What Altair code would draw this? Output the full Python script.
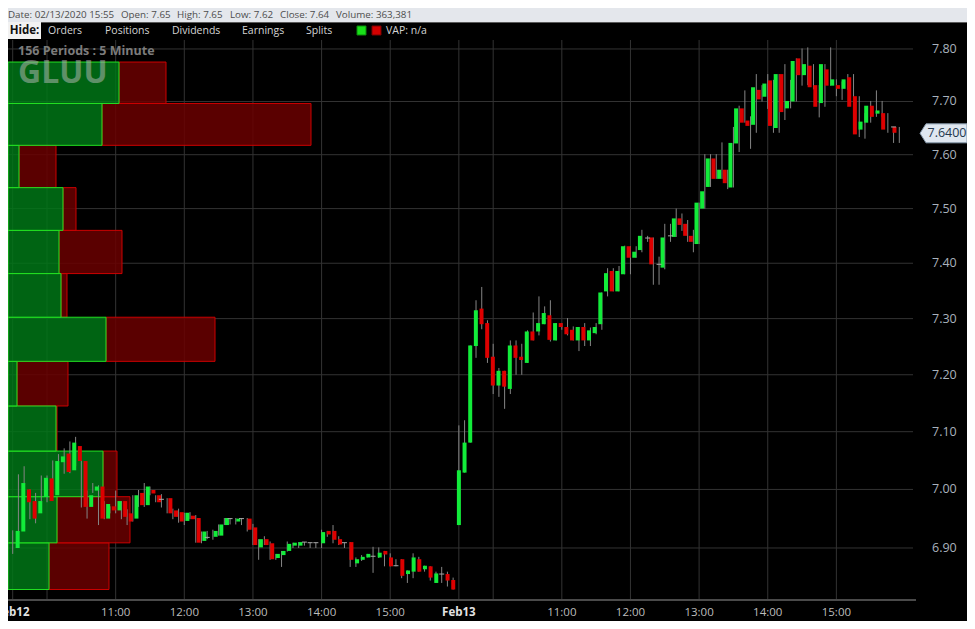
import altair as alt
import pandas as pd

# ---------------- data ----------------
opens = [6.900, 6.928, 7.000, 6.980, 6.959, 6.987, 7.019, 6.990, 7.047, 7.062,
         7.033, 7.075, 7.049, 6.970, 6.998, 7.005, 6.950, 6.971, 6.964, 6.980,
         6.959, 6.950, 6.994, 6.973, 6.999, 6.990, 6.983, 6.985, 6.964, 6.961,
         6.946, 6.955, 6.951, 6.912, 6.918, 6.919, 6.921, 6.939, 6.950, 6.945,
         6.950, 6.950, 6.935, 6.901, 6.915, 6.908, 6.883, 6.888, 6.895, 6.904,
         6.904, 6.910, 6.909, 6.909, 6.908, 6.929, 6.929, 6.915, 6.909, 6.910,
         6.874, 6.880, 6.884, 6.886, 6.884, 6.895, 6.884, 6.870, 6.881, 6.856,
         6.860, 6.881, 6.864, 6.869, 6.841, 6.856, 6.856, 6.846,
         6.939, 7.029, 7.081, 7.251, 7.318, 7.292, 7.232, 7.181, 7.207, 7.175,
         7.252, 7.232, 7.221, 7.277, 7.277, 7.290, 7.306, 7.261, 7.292, 7.285,
         7.280, 7.261, 7.285, 7.261, 7.274, 7.290, 7.349, 7.386, 7.349, 7.380,
         7.431, 7.410, 7.424, 7.446, 7.447, 7.398, 7.392, 7.450, 7.448, 7.482,
         7.472, 7.450, 7.435, 7.500, 7.540, 7.593, 7.555, 7.572, 7.539, 7.621,
         7.687, 7.664, 7.656, 7.722, 7.709, 7.740, 7.650, 7.752, 7.687, 7.700,
         7.782, 7.750, 7.768, 7.731, 7.697, 7.761, 7.730, 7.731, 7.724, 7.746,
         7.710, 7.647, 7.660, 7.692, 7.677, 7.678, 7.652, 7.652]
highs = [6.930, 7.026, 7.040, 7.000, 6.994, 7.024, 7.024, 7.050, 7.061, 7.071,
         7.083, 7.091, 7.050, 6.998, 7.011, 7.007, 6.980, 6.971, 6.998, 6.980,
         6.966, 6.990, 6.999, 7.011, 7.005, 6.990, 6.992, 6.985, 6.967, 6.967,
         6.960, 6.961, 6.956, 6.928, 6.929, 6.931, 6.940, 6.951, 6.951, 6.951,
         6.951, 6.951, 6.941, 6.915, 6.920, 6.911, 6.890, 6.895, 6.911, 6.909,
         6.910, 6.910, 6.909, 6.909, 6.931, 6.929, 6.939, 6.920, 6.909, 6.910,
         6.884, 6.888, 6.890, 6.902, 6.901, 6.895, 6.891, 6.881, 6.881, 6.862,
         6.891, 6.885, 6.870, 6.869, 6.860, 6.868, 6.860, 6.850,
         7.111, 7.120, 7.252, 7.333, 7.357, 7.297, 7.255, 7.212, 7.207, 7.261,
         7.261, 7.255, 7.279, 7.311, 7.340, 7.322, 7.333, 7.292, 7.292, 7.301,
         7.286, 7.285, 7.292, 7.284, 7.292, 7.347, 7.391, 7.391, 7.395, 7.432,
         7.431, 7.431, 7.461, 7.450, 7.447, 7.412, 7.472, 7.472, 7.500, 7.491,
         7.479, 7.461, 7.511, 7.601, 7.601, 7.601, 7.623, 7.572, 7.652, 7.692,
         7.721, 7.672, 7.752, 7.731, 7.752, 7.741, 7.752, 7.771, 7.741, 7.782,
         7.801, 7.803, 7.771, 7.731, 7.771, 7.803, 7.742, 7.738, 7.752, 7.752,
         7.710, 7.678, 7.701, 7.721, 7.701, 7.678, 7.652, 7.652]
lows = [6.890, 6.908, 6.959, 6.949, 6.942, 6.978, 6.978, 6.986, 7.043, 7.027,
        7.028, 7.040, 6.969, 6.950, 6.994, 6.939, 6.949, 6.959, 6.959, 6.949,
        6.939, 6.945, 6.970, 6.970, 6.990, 6.978, 6.969, 6.959, 6.949, 6.943,
        6.939, 6.949, 6.909, 6.908, 6.915, 6.914, 6.921, 6.939, 6.940, 6.940,
        6.939, 6.928, 6.905, 6.880, 6.905, 6.880, 6.880, 6.868, 6.894, 6.900,
        6.900, 6.904, 6.900, 6.900, 6.900, 6.919, 6.908, 6.905, 6.900, 6.868,
        6.868, 6.878, 6.884, 6.858, 6.883, 6.869, 6.869, 6.869, 6.849, 6.841,
        6.849, 6.860, 6.860, 6.845, 6.841, 6.841, 6.835, 6.830,
        6.939, 7.029, 7.081, 7.230, 7.281, 7.221, 7.166, 7.161, 7.140, 7.166,
        7.200, 7.200, 7.221, 7.261, 7.270, 7.290, 7.259, 7.261, 7.280, 7.270,
        7.261, 7.242, 7.251, 7.251, 7.272, 7.280, 7.340, 7.349, 7.349, 7.380,
        7.380, 7.410, 7.420, 7.439, 7.361, 7.361, 7.389, 7.439, 7.448, 7.459,
        7.439, 7.420, 7.435, 7.500, 7.540, 7.555, 7.555, 7.536, 7.539, 7.605,
        7.660, 7.611, 7.641, 7.700, 7.686, 7.641, 7.641, 7.665, 7.687, 7.700,
        7.730, 7.731, 7.723, 7.670, 7.690, 7.730, 7.710, 7.703, 7.722, 7.690,
        7.633, 7.630, 7.660, 7.671, 7.671, 7.641, 7.622, 7.622]
closes = [6.929, 7.011, 6.978, 6.950, 6.980, 7.020, 6.980, 7.049, 7.057, 7.030,
          7.081, 7.049, 6.970, 6.990, 7.005, 6.950, 6.975, 6.964, 6.980, 6.953,
          6.945, 6.990, 6.973, 7.005, 6.993, 6.978, 6.983, 6.959, 6.953, 6.945,
          6.960, 6.949, 6.909, 6.928, 6.918, 6.929, 6.940, 6.951, 6.950, 6.950,
          6.950, 6.931, 6.905, 6.915, 6.905, 6.881, 6.890, 6.895, 6.907, 6.909,
          6.910, 6.910, 6.909, 6.909, 6.927, 6.923, 6.914, 6.906, 6.909, 6.880,
          6.881, 6.885, 6.890, 6.886, 6.892, 6.889, 6.869, 6.870, 6.853, 6.862,
          6.884, 6.860, 6.870, 6.850, 6.857, 6.856, 6.845, 6.830,
          7.033, 7.081, 7.252, 7.315, 7.290, 7.230, 7.181, 7.207, 7.179, 7.252,
          7.230, 7.226, 7.277, 7.261, 7.292, 7.310, 7.262, 7.292, 7.285, 7.272,
          7.261, 7.285, 7.261, 7.279, 7.285, 7.347, 7.382, 7.349, 7.386, 7.431,
          7.410, 7.421, 7.450, 7.446, 7.398, 7.398, 7.447, 7.450, 7.482, 7.470,
          7.450, 7.439, 7.511, 7.532, 7.593, 7.555, 7.572, 7.547, 7.622, 7.687,
          7.660, 7.654, 7.727, 7.704, 7.734, 7.654, 7.752, 7.680, 7.701, 7.777,
          7.750, 7.771, 7.727, 7.690, 7.771, 7.730, 7.742, 7.724, 7.742, 7.690,
          7.638, 7.662, 7.692, 7.671, 7.683, 7.647, 7.652, 7.641]

tick_idx = [0, 6, 18, 30, 42, 54, 66, 78, 84, 96, 108, 120, 132, 144]
date_idx = [0, 78]
date_txt = ["Feb12", "Feb13"]
time_idx = [18, 30, 42, 54, 66, 96, 108, 120, 132, 144]
time_txt = ["11:00", "12:00", "13:00", "14:00", "15:00",
            "11:00", "12:00", "13:00", "14:00", "15:00"]
price_ticks = [6.9, 7.0, 7.1, 7.2, 7.3, 7.4, 7.5, 7.6, 7.7, 7.8]
price_labels = ["6.90", "7.00", "7.10", "7.20", "7.30",
                "7.40", "7.50", "7.60", "7.70", "7.80"]

# volume at price (thousand shares), bins from low to high
vap_low, vap_high = 6.830, 7.775
buy_k = [41, 49, 95, 48, 9, 98, 53, 51, 55, 11, 94, 111]
sell_k = [60, 73, 14, 1, 51, 109, 6, 63, 13, 37, 209, 47]
last_price = 7.64

# ---------------- frames ----------------
N = len(opens)
cdf = pd.DataFrame({"i": list(range(N)), "o": opens, "h": highs,
                    "l": lows, "c": closes})
cdf["dir"] = ["up" if c > o else ("down" if c < o else "flat")
              for o, c in zip(opens, closes)]
bodies = cdf[cdf["dir"] != "flat"]
dojis = cdf[cdf["dir"] == "flat"]

nb = len(buy_k)
step = (vap_high - vap_low) / nb
vdf = pd.DataFrame({
    "lo": [vap_low + k * step for k in range(nb)],
    "hi": [vap_low + (k + 1) * step for k in range(nb)],
    "zero": [0] * nb,
    "buy": buy_k,
    "tot": [b + s for b, s in zip(buy_k, sell_k)],
})

one = pd.DataFrame({"a": [0]})
W, H = 908, 560
FONT = "Open Sans"

xs = alt.Scale(domain=[-0.8217, 157.92], nice=False, zero=False)
ys = alt.Scale(type="log", domain=[6.8124, 7.8172], nice=False, zero=False)
vs = alt.Scale(domain=[0, 908], nice=False, zero=False)


def txt(t, x, y, size=10.5, color="#d4d4d4", weight="normal", align="left", **kw):
    return alt.Chart(one).mark_text(
        text=t, align=align, baseline="middle", font=FONT, fontSize=size,
        color=color, fontWeight=weight, **kw
    ).encode(x=alt.value(x), y=alt.value(y))


def box(x, x2, y, y2, **kw):
    return alt.Chart(one).mark_rect(**kw).encode(
        x=alt.value(x), x2=alt.value(x2), y=alt.value(y), y2=alt.value(y2))


layers = []
# header bar
layers.append(box(0, 959, -32, -18, color="#e4e7ec"))
layers.append(alt.Chart(one).mark_rule(color="#5a5a5a").encode(
    x=alt.value(0), x2=alt.value(959), y=alt.value(-17.5)))
hy = -25
HC = "#4d4d4d"
layers += [
    txt("Date: 02/13/2020 15:55", 0, hy, 9.8, HC),
    txt("Open: 7.65", 113, hy, 9.8, HC),
    txt("High: 7.65", 169, hy, 9.8, HC),
    txt("Low: 7.62", 222, hy, 9.8, HC),
    txt("Close: 7.64", 272, hy, 9.8, HC),
    txt("Volume: 363,381", 328, hy, 9.8, HC),
]
# toolbar
ty = -9.5
layers += [
    box(0, 33, -18, -1, color="#f2f2f2"),
    txt("Hide:", 16.5, ty, 11.5, "#111111", "bold", align="center"),
    txt("Orders", 40, ty), txt("Positions", 97, ty),
    txt("Dividends", 164, ty), txt("Earnings", 234, ty),
    txt("Splits", 298, ty),
    box(349, 358, -14, -5, color="#19e019", stroke="#0b8a0b"),
    box(364, 373, -14, -5, color="#d40000", stroke="#7a0000"),
    txt("VAP: n/a", 378, ty),
]

# grid
layers.append(alt.Chart(pd.DataFrame({"t": tick_idx})).mark_rule(
    color="#333333", strokeWidth=1).encode(
    x=alt.X("t:Q", scale=xs, axis=None), y=alt.value(0), y2=alt.value(H)))
layers.append(alt.Chart(pd.DataFrame({"p": price_ticks})).mark_rule(
    color="#333333", strokeWidth=1).encode(
    y=alt.Y("p:Q", scale=ys, axis=None), x=alt.value(0), x2=alt.value(905)))
# bottom axis line
layers.append(alt.Chart(one).mark_rule(color="#4a4a4a", strokeWidth=2).encode(
    x=alt.value(0), x2=alt.value(W), y=alt.value(H)))

# watermark info
layers.append(txt("156  Periods : 5 Minute", 10, 10.5, 12.5, "#7c7c7c", "bold"))

# volume at price
layers.append(alt.Chart(vdf).mark_rect(
    fill="#6a0000", fillOpacity=0.85, stroke="#cc0000", strokeWidth=1).encode(
    x=alt.X("buy:Q", scale=vs, axis=None), x2="tot:Q",
    y=alt.Y("lo:Q", scale=ys, axis=None), y2="hi:Q"))
layers.append(alt.Chart(vdf).mark_rect(
    fill="#007a17", fillOpacity=0.82, stroke="#22e022", strokeWidth=1).encode(
    x=alt.X("zero:Q", scale=vs, axis=None), x2="buy:Q",
    y=alt.Y("lo:Q", scale=ys, axis=None), y2="hi:Q"))

layers.append(txt("GLUU", 10, 33, 32, "#bcbcbc", "bold", opacity=0.5))

# candles
layers.append(alt.Chart(cdf).mark_rule(color="#858585", strokeWidth=1).encode(
    x=alt.X("i:Q", scale=xs, axis=None),
    y=alt.Y("l:Q", scale=ys, axis=None), y2="h:Q"))
layers.append(alt.Chart(bodies).mark_bar(size=4).encode(
    x=alt.X("i:Q", scale=xs, axis=None),
    y=alt.Y("o:Q", scale=ys, axis=None), y2="c:Q",
    color=alt.Color("dir:N", scale=alt.Scale(domain=["up", "down"],
                                             range=["#12ec3a", "#de0000"]),
                    legend=None)))
layers.append(alt.Chart(dojis).mark_rule(
    color="#a8a8a8", strokeWidth=1, xOffset=-2.5, x2Offset=2.5).encode(
    x=alt.X("i:Q", scale=xs, axis=None), x2="i:Q",
    y=alt.Y("c:Q", scale=ys, axis=None)))

# right price labels
layers.append(alt.Chart(pd.DataFrame({"p": price_ticks, "s": price_labels}))
              .mark_text(align="left", baseline="middle", font=FONT,
                         fontSize=12.5, color="#a9b2bd").encode(
    x=alt.value(924), y=alt.Y("p:Q", scale=ys, axis=None), text="s:N"))

# last price callout
shape = "M-1,0 L-0.745,-0.404 L1,-0.404 L1,0.404 L-0.745,0.404 Z"
lp = pd.DataFrame({"p": [last_price], "s": [f"{last_price:.4f}"]})
layers.append(alt.Chart(lp).mark_point(
    shape=shape, size=2209, filled=True, fill="#dfe7f0", stroke="#8799ab",
    strokeWidth=1, opacity=1).encode(
    x=alt.value(935.5), y=alt.Y("p:Q", scale=ys, axis=None)))
layers.append(alt.Chart(lp).mark_text(
    align="center", baseline="middle", font=FONT, fontSize=12.5,
    color="#23384e").encode(
    x=alt.value(939), y=alt.Y("p:Q", scale=ys, axis=None), text="s:N"))

# time labels
LY = 573
layers.append(alt.Chart(pd.DataFrame({"t": date_idx, "s": date_txt})).mark_text(
    align="center", baseline="middle", font=FONT, fontSize=11.5,
    fontWeight="bold", color="#e2e2e2").encode(
    x=alt.X("t:Q", scale=xs, axis=None), y=alt.value(LY), text="s:N"))
layers.append(alt.Chart(pd.DataFrame({"t": time_idx, "s": time_txt})).mark_text(
    align="center", baseline="middle", font=FONT, fontSize=11.5,
    color="#bdbdbd").encode(
    x=alt.X("t:Q", scale=xs, axis=None), y=alt.value(LY), text="s:N"))

chart = alt.layer(*layers).properties(
    width=W, height=H,
    padding={"left": 0, "top": 32, "right": 51, "bottom": 21},
    autosize=alt.AutoSizeParams(type="none"),
    background="#000000",
).resolve_scale(x="independent").configure_view(stroke=None)

chart.save("out.html", embed_options={"renderer": "svg", "actions": False})
